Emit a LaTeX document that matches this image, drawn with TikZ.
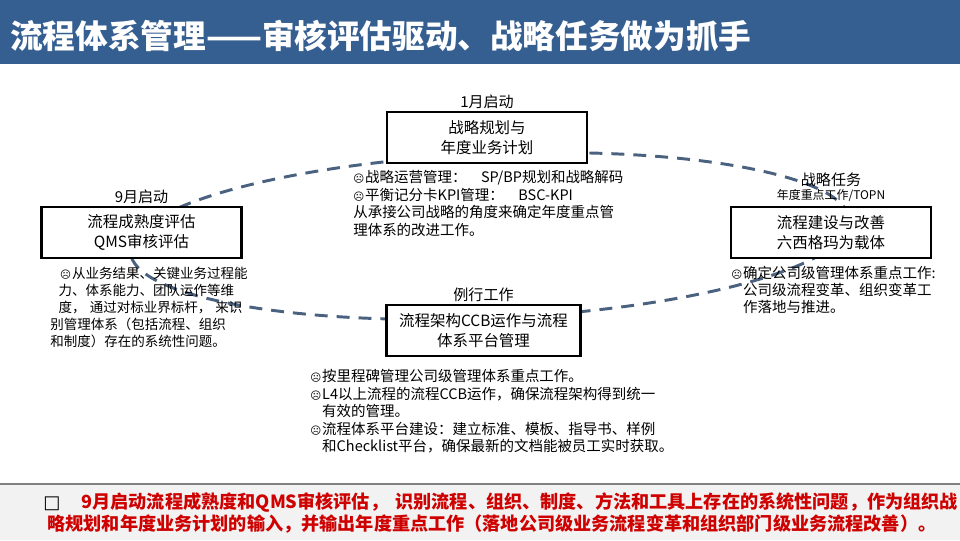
\documentclass[tikz,border=0pt]{standalone}
\usepackage{fontspec}
\setmainfont{Noto Sans CJK SC}
\newfontfamily\symfont{DejaVu Sans}
\usetikzlibrary{positioning}

\definecolor{titleblue}{RGB}{54,95,145}
\definecolor{cycleblue}{RGB}{74,98,128}
\definecolor{notered}{RGB}{206,0,0}
\definecolor{barfill}{RGB}{242,242,242}
\definecolor{bargray}{RGB}{128,128,128}

\newcommand{\bul}{\makebox[8.5pt][l]{\symfont\fontsize{7.5}{7.5}\selectfont ☹}}
\newcommand{\bulind}{\hspace*{8.5pt}}

\tikzset{
	stagebox/.style={draw=black, line width=1.8pt, fill=white, minimum width=5cm, minimum height=1.27cm, align=center, inner sep=2pt, font=\fontsize{11}{14.2}\selectfont},
	stagelbl/.style={inner sep=1pt, font=\fontsize{10.7}{12}\selectfont},
	desc/.style={anchor=north west, align=left, inner sep=0pt, font=\fontsize{10.3}{12.5}\selectfont},
}

\begin{document}
\begin{tikzpicture}[x=0.025cm, y=-0.025cm]
		\useasboundingbox (0,0) rectangle (960,540);
		
		%------------------------------------------------
		% Title bar
		%------------------------------------------------
		\fill[titleblue] (0,0) rectangle (960,64);
		\node[anchor=west, inner sep=0pt, text=white, font=\bfseries\fontsize{23.2}{26}\selectfont] (title) at (10,36) {流程体系管理——审核评估驱动、战略任务做为抓手};
		
		%------------------------------------------------
		% Review cycle
		%------------------------------------------------
		\coordinate (hub) at (490,236);
		\draw[cycleblue, line width=2.1pt, dash pattern=on 9.2pt off 6.4pt, rotate around={2.5:(hub)}] (hub) ellipse [x radius=360, y radius=82];
		
		%------------------------------------------------
		% Stages
		%------------------------------------------------
		\node[stagebox] (plan) at (487,137.5) {战略规划与\\年度业务计划};
		\node[stagebox] (maturity) at (141.5,232.5) {流程成熟度评估\\QMS审核评估};
		\node[stagebox] (improve) at (831,232.5) {流程建设与改善\\六西格玛为载体};
		\node[stagebox, minimum width=4.85cm] (routine) at (483.5,330.5) {流程架构CCB运作与流程\\体系平台管理};
		
		\node[stagelbl, above=0pt of plan] (janlbl) {1月启动};
		\node[stagelbl, above=0pt of maturity] (seplbl) {9月启动};
		\node[stagelbl, above=2pt of improve, font=\fontsize{8.5}{10}\selectfont] (topnlbl) {年度重点工作/TOPN};
		\node[stagelbl, above=-1pt of topnlbl] (tasklbl) {战略任务};
		\node[stagelbl, above=0pt of routine] (routinelbl) {例行工作};
		
		%------------------------------------------------
		% Notes under the stages
		%------------------------------------------------
		\node[desc] (plandesc) at (353,170) {\bul 战略运营管理：\hspace{1em}SP/BP规划和战略解码\\\bul 平衡记分卡KPI管理：\hspace{1em}BSC-KPI\\从承接公司战略的角度来确定年度重点管\\理体系的改进工作。};
		\node[desc, font=\fontsize{9.6}{12.1}\selectfont] (maturitydesc) at (50,267) {\hspace*{7pt}\bul 从业务结果、关键业务过程能\\\hspace*{6pt}力、体系能力、团队运作等维\\\hspace*{6pt}度，\hspace{0.3em}通过对标业界标杆，\hspace{0.3em}来识\\别管理体系（包括流程、组织\\和制度）存在的系统性问题。};
		\node[desc, font=\fontsize{10.3}{12.1}\selectfont] (improvedesc) at (731,266) {\bul 确定公司级管理体系重点工作:\\\bulind 公司级流程变革、组织变革工\\\bulind 作落地与推进。};
		\node[desc] (routinedesc) at (310,369) {\bul 按里程碑管理公司级管理体系重点工作。\\\bul L4以上流程的流程CCB运作，确保流程架构得到统一\\\bulind 有效的管理。\\\bul 流程体系平台建设：建立标准、模板、指导书、样例\\\bulind 和Checklist平台，确保最新的文档能被员工实时获取。};
		
		%------------------------------------------------
		% Summary bar
		%------------------------------------------------
		\fill[barfill] (0,484) rectangle (960,540);
		\draw[bargray, line width=1.5pt] (0,484) -- (960,484);
		\node[anchor=north west, align=left, inner sep=0pt, text=notered, font=\bfseries\fontsize{12.9}{15.6}\selectfont] (summary) at (43,492) {{\symfont\color{black}□}\hspace{15pt}9月启动流程成熟度和QMS审核评估，\hspace{0.4em}识别流程、组织、制度、方法和工具上存在的系统性问题，作为组织战\\\hspace*{3pt}略规划和年度业务计划的输入，并输出年度重点工作（落地公司级业务流程变革和组织部门级业务流程改善）。};
		
	\end{tikzpicture}
\end{document}
